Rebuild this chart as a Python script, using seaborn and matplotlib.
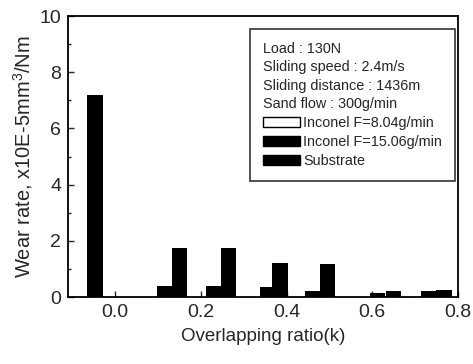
""" Wear rate vs overlapping ratio """

import matplotlib.pyplot as plt
import matplotlib.patches as mpatches
from matplotlib.ticker import MultipleLocator
import seaborn as sns

sns.set_style('ticks')
plt.rcParams['font.family'] = ['Liberation Sans', 'DejaVu Sans']
plt.rcParams['mathtext.default'] = 'regular'

# overlapping ratio (bar positions)
x_substrate = [-0.047]
x_f804 = [0.116, 0.231, 0.355, 0.461, 0.612, 0.732]
x_f1506 = [0.150, 0.265, 0.385, 0.496, 0.650, 0.768]

# wear rate, x10E-5 mm^3/Nm
wear_substrate = [7.2]
wear_f804 = [0.40, 0.40, 0.37, 0.21, 0.15, 0.20]
wear_f1506 = [1.73, 1.73, 1.22, 1.17, 0.21, 0.24]

legend_title = ('Load : 130N\nSliding speed : 2.4m/s\n'
                'Sliding distance : 1436m\nSand flow : 300g/min')
labels = ['Inconel F=8.04g/min', 'Inconel F=15.06g/min', 'Substrate']

fig = plt.figure(figsize=(4.73, 3.64), dpi=100)
ax = fig.add_axes([0.144, 0.184, 0.824, 0.772])

largura = 0.036
ax.bar(x_substrate, wear_substrate, width=0.037, color='black',
       edgecolor='black', linewidth=0)
ax.bar(x_f804, wear_f804, width=largura, color='black',
       edgecolor='black', linewidth=0)
ax.bar(x_f1506, wear_f1506, width=largura, color='black',
       edgecolor='black', linewidth=0)

ax.set_xlim(-0.11, 0.8)
ax.set_ylim(0, 10)
ax.xaxis.set_major_locator(MultipleLocator(0.2))
ax.yaxis.set_major_locator(MultipleLocator(2))
ax.yaxis.set_minor_locator(MultipleLocator(1))
ax.xaxis.set_major_formatter(plt.FuncFormatter(lambda v, p: f'{v:.1f}'))
ax.yaxis.set_major_formatter(plt.FuncFormatter(lambda v, p: f'{v:.0f}'))

ax.tick_params(direction='in', labelsize=14, length=4, width=1, pad=5)
ax.tick_params(which='minor', direction='in', length=2.5, width=1)
ax.tick_params(axis='x', which='both', top=False)
ax.tick_params(axis='y', which='both', right=False)
for lado in ax.spines.values():
    lado.set_linewidth(1.3)
    lado.set_color('black')

ax.set_xlabel('Overlapping ratio(k)', fontsize=13.5, labelpad=5)
ax.set_ylabel('Wear rate, x10E-5mm$^3$/Nm', fontsize=14.5, labelpad=3)

handles = [
    mpatches.Patch(facecolor='white', edgecolor='black', linewidth=1),
    mpatches.Patch(facecolor='black', edgecolor='black'),
    mpatches.Patch(facecolor='black', edgecolor='black'),
]
leg = ax.legend(
    handles, labels,
    title=legend_title,
    alignment='left',
    loc='upper left',
    bbox_to_anchor=(0.467, 0.954),
    fontsize=10.4,
    title_fontsize=10.4,
    frameon=True,
    fancybox=False,
    handlelength=2.55,
    handleheight=0.7,
    handletextpad=0.2,
    labelspacing=0.35,
    borderpad=0.9,
    borderaxespad=0,
)
leg.get_frame().set_edgecolor('black')
leg.get_frame().set_linewidth(1.2)
leg.get_title().set_linespacing(1.4)

plt.savefig('out.png', dpi=100)
